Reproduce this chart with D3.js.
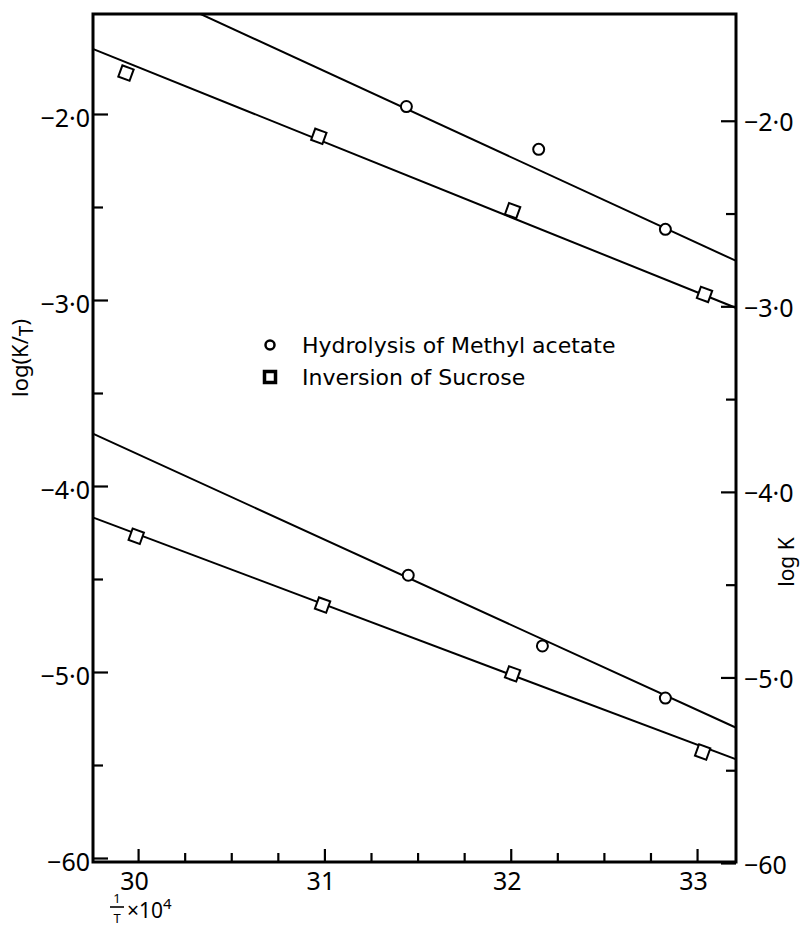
<!DOCTYPE html>
<html>
<head>
<meta charset="utf-8">
<script src="https://cdn.jsdelivr.net/npm/d3@7"></script>
<style>
  body { margin: 0; background: #fff; }
  svg { display: block; }
  text { font-family: "Noto Sans", "DejaVu Sans", sans-serif; fill: #000; }
</style>
</head>
<body>
<div id="chart"></div>
<script>
// Axes ticks and labels
const xMajor = [30, 31, 32, 33];
const xMinor = [30.25, 30.5, 30.75, 31.25, 31.5, 31.75, 32.25, 32.5, 32.75];
const yMajor = [-2, -3, -4, -5, -6];
const yMinor = [-2.5, -3.5, -4.5, -5.5];
const yLabels = ["\u22122\u00b70", "\u22123\u00b70", "\u22124\u00b70", "\u22125\u00b70", "\u221260"];

// Legend
const legendLabels = ["Hydrolysis of Methyl acetate", "Inversion of Sucrose"];

// Fitted lines (end points)
const lineX = [29.76, 33.21];
const methylTopLine = [-1.197, -2.79];
const sucroseTopLine = [-1.651, -3.043];
const methylLowLine = [-3.72, -5.30];
const sucroseLowLine = [-4.17, -5.47];

// Measured points
const methylTopX = [31.44, 32.15, 32.83];
const methylTopY = [-1.96, -2.19, -2.62];
const sucroseTopX = [29.935, 30.97, 32.01, 33.04];
const sucroseTopY = [-1.78, -2.12, -2.52, -2.97];
const methylLowX = [31.45, 32.17, 32.83];
const methylLowY = [-4.48, -4.86, -5.14];
const sucroseLowX = [29.99, 30.99, 32.01, 33.03];
const sucroseLowY = [-4.27, -4.64, -5.01, -5.43];

const W = 810, H = 928;
const box = {left: 93, right: 736, top: 14, bottom: 862};

const svg = d3.select('#chart')
    .append('svg')
    .attr('width', W)
    .attr('height', H);

const x = d3.scaleLinear()
    .domain([29.758, 33.209])
    .range([box.left, box.right]);

const y = d3.scaleLinear()
    .domain([-1.4624, -6.0215])
    .range([box.top, box.bottom]);

// right axis is printed a little lower in the scan
const yR = d3.scaleLinear()
    .domain([-1.4624, -6.0215])
    .range([box.top + 7, box.bottom + 5]);

svg.append('clipPath')
    .attr('id', 'plotclip')
    .append('rect')
    .attr('x', box.left)
    .attr('y', box.top)
    .attr('width', box.right - box.left)
    .attr('height', box.bottom - box.top);

// bottom axis: minor ticks then major ticks with labels
const gxMinor = svg.append('g')
    .attr('transform', 'translate(0,' + box.bottom + ')')
    .call(d3.axisBottom(x).tickValues(xMinor).tickSizeInner(-9).tickSizeOuter(0).tickFormat(''));

const gx = svg.append('g')
    .attr('transform', 'translate(0,' + box.bottom + ')')
    .call(d3.axisBottom(x).tickValues(xMajor).tickSizeInner(-13).tickSizeOuter(0).tickPadding(10).tickFormat(d3.format('d')));

gx.selectAll('text')
    .attr('dx', -4)
    .style('font-size', '25px')
    .style('font-family', '"Noto Sans", sans-serif');

// left axis
const gyMinor = svg.append('g')
    .attr('transform', 'translate(' + box.left + ',0)')
    .call(d3.axisLeft(y).tickValues(yMinor).tickSizeInner(-10).tickSizeOuter(0).tickFormat(''));

const gy = svg.append('g')
    .attr('transform', 'translate(' + box.left + ',0)')
    .call(d3.axisLeft(y).tickValues(yMajor).tickSizeInner(-15).tickSizeOuter(0).tickPadding(3)
        .tickFormat((d, i) => yLabels[i]));

gy.selectAll('text')
    .attr('dy', '0.5em')
    .style('font-size', '25px')
    .style('font-family', '"Noto Sans", sans-serif');

// right axis
const gyRMinor = svg.append('g')
    .attr('transform', 'translate(' + box.right + ',0)')
    .call(d3.axisRight(yR).tickValues(yMinor).tickSizeInner(-10).tickSizeOuter(0).tickFormat(''));

const gyR = svg.append('g')
    .attr('transform', 'translate(' + box.right + ',0)')
    .call(d3.axisRight(yR).tickValues(yMajor).tickSizeInner(-15).tickSizeOuter(0).tickPadding(8)
        .tickFormat((d, i) => yLabels[i]));

gyR.selectAll('text')
    .attr('dy', '0.4em')
    .style('font-size', '25px')
    .style('font-family', '"Noto Sans", sans-serif');

[gxMinor, gx, gyMinor, gy, gyRMinor, gyR].forEach(g => {
    g.select('.domain').remove();
    g.selectAll('line').attr('stroke', '#000').attr('stroke-width', 2.2);
});

// frame
svg.append('rect')
    .attr('x', box.left)
    .attr('y', box.top)
    .attr('width', box.right - box.left)
    .attr('height', box.bottom - box.top)
    .attr('fill', 'none')
    .attr('stroke', '#000')
    .attr('stroke-width', 3);

// fitted lines
const lineGen = d3.line()
    .x(d => x(d[0]))
    .y(d => y(d[1]));

const plot = svg.append('g').attr('clip-path', 'url(#plotclip)');

[methylTopLine, sucroseTopLine, methylLowLine, sucroseLowLine].forEach(ys => {
    plot.append('path')
        .datum(lineX.map((v, i) => [v, ys[i]]))
        .attr('d', lineGen)
        .attr('fill', 'none')
        .attr('stroke', '#000')
        .attr('stroke-width', 2);
});

// circles
function drawCircles(xs, ys) {
    svg.append('g')
        .selectAll('circle')
        .data(xs.map((v, i) => [v, ys[i]]))
        .join('circle')
        .attr('cx', d => x(d[0]))
        .attr('cy', d => y(d[1]))
        .attr('r', 5.5)
        .attr('fill', '#fff')
        .attr('stroke', '#000')
        .attr('stroke-width', 2);
}

// squares, a bit tilted like on the print
function drawSquares(xs, ys) {
    const s = 12;
    svg.append('g')
        .selectAll('rect')
        .data(xs.map((v, i) => [v, ys[i]]))
        .join('rect')
        .attr('x', -s / 2)
        .attr('y', -s / 2)
        .attr('width', s)
        .attr('height', s)
        .attr('transform', d => 'translate(' + x(d[0]) + ',' + y(d[1]) + ') rotate(20)')
        .attr('fill', '#fff')
        .attr('stroke', '#000')
        .attr('stroke-width', 2);
}

drawCircles(methylTopX, methylTopY);
drawCircles(methylLowX, methylLowY);
drawSquares(sucroseTopX, sucroseTopY);
drawSquares(sucroseLowX, sucroseLowY);

// legend
const legend = svg.append('g').attr('transform', 'translate(270,345)');
legend.append('circle')
    .attr('cx', 0).attr('cy', 0).attr('r', 4.5)
    .attr('fill', '#fff').attr('stroke', '#000').attr('stroke-width', 2.5);
legend.append('rect')
    .attr('x', -5.5).attr('y', 26.5).attr('width', 11).attr('height', 11)
    .attr('fill', '#fff').attr('stroke', '#000').attr('stroke-width', 3.5);
legend.selectAll('text.lab')
    .data(legendLabels)
    .join('text')
    .attr('class', 'lab')
    .attr('x', 32)
    .attr('y', (d, i) => 8 + i * 32)
    .style('font-family', '"DejaVu Sans", sans-serif')
    .style('font-size', '22px')
    .text(d => d);

// left axis title log(K/T)
const yTitle = svg.append('text')
    .attr('transform', 'translate(28,358) rotate(-90)')
    .attr('text-anchor', 'middle')
    .style('font-size', '22px');
yTitle.append('tspan').text('log(K');
yTitle.append('tspan').text('/');
yTitle.append('tspan').attr('dy', 5).style('font-size', '19px').text('T');
yTitle.append('tspan').attr('dy', -5).text(')');

// right axis title
svg.append('text')
    .attr('transform', 'translate(794,562) rotate(-90)')
    .attr('text-anchor', 'middle')
    .style('font-size', '21px')
    .text('log K');

// bottom axis title: 1/T x 10^4
const xt = svg.append('g').attr('transform', 'translate(117,0)');
xt.append('text').attr('x', 0).attr('y', 903).attr('text-anchor', 'middle').style('font-size', '13px').text('1');
xt.append('line').attr('x1', -7).attr('x2', 7).attr('y1', 907).attr('y2', 907).attr('stroke', '#000').attr('stroke-width', 1.6);
xt.append('text').attr('x', 0).attr('y', 923).attr('text-anchor', 'middle').style('font-size', '13px').text('T');
const xt2 = xt.append('text').attr('x', 10).attr('y', 918).style('font-size', '21px');
xt2.append('tspan').text('\u00d710');
xt2.append('tspan').attr('dy', -9).style('font-size', '15px').text('4');
</script>
</body>
</html>
